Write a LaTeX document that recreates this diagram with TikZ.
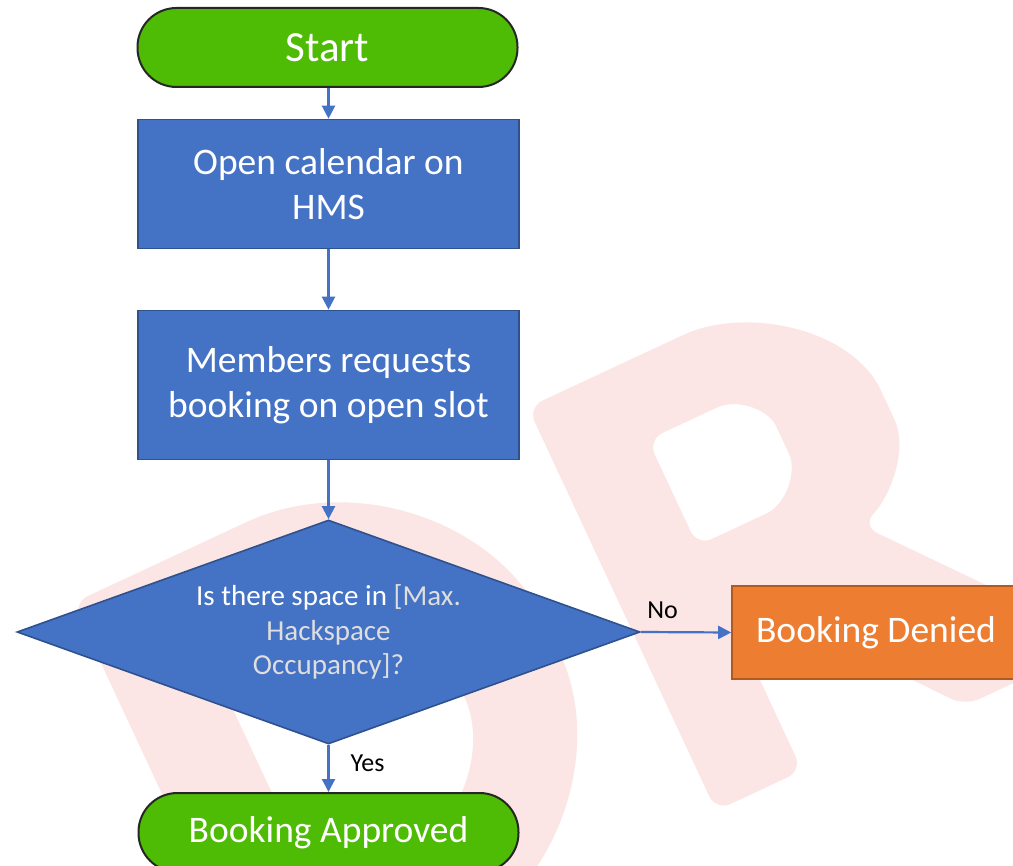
\documentclass[tikz,border=0pt]{standalone}
\usepackage{fontspec}
\setmainfont{Carlito}
\usetikzlibrary{shapes.geometric,arrows.meta}
\definecolor{termgreen}{RGB}{78,187,5}
\definecolor{procblue}{RGB}{68,114,196}
\definecolor{procedge}{RGB}{47,82,143}
\definecolor{denyorange}{RGB}{237,125,49}
\definecolor{denyedge}{RGB}{174,90,33}
\definecolor{wmpink}{RGB}{252,229,229}
\definecolor{paletext}{RGB}{222,222,222}
\begin{document}
\begin{tikzpicture}[x=1pt,y=-1pt,
  term/.style={draw=black!85, line width=2pt, fill=termgreen, rounded corners=39pt,
    minimum width=380pt, minimum height=79pt, text=white, inner sep=0pt,
    font=\fontsize{37.5}{45}\selectfont},
  proc/.style={draw=procedge, line width=1.6pt, fill=procblue, minimum width=381pt,
    text=white, inner sep=0pt, align=center, font=\fontsize{37.5}{45}\selectfont},
  decision/.style={diamond, aspect=2.78, draw=procedge, line width=1.6pt, fill=procblue,
    minimum width=623pt, minimum height=224pt, inner sep=0pt, align=center,
    text=paletext, font=\fontsize{29}{34.5}\selectfont},
  deny/.style={draw=denyedge, line width=1.6pt, fill=denyorange, minimum width=288pt,
    minimum height=93pt, text=white, inner sep=0pt, font=\fontsize{37.5}{45}\selectfont},
  conn/.style={draw=procblue, line width=2.2pt, -{Triangle[length=13pt,width=13pt]}},
  lbl/.style={text=black, font=\fontsize{26}{30}\selectfont, inner sep=0pt},
  wmark/.style={fill=wmpink, draw=none, even odd rule, rounded corners=16pt}
]
\useasboundingbox (0,0) rectangle (1013,866);
\clip (0,0) rectangle (1013,866);
\fill[white] (0,0) rectangle (1013,866);

% watermark "DR"
\begin{scope}[shift={(73,603)}, rotate=25]
  \path[wmark] (0,0) -- (175,0) .. controls (310,0) and (420,105) .. (420,235)
    .. controls (420,365) and (310,470) .. (175,470) -- (0,470) -- cycle
    (100,100) -- (175,100) .. controls (252,100) and (315,160) .. (315,235)
    .. controls (315,310) and (252,370) .. (175,370) -- (100,370) -- cycle;
  \path[wmark] (495,15) -- (650,15) .. controls (735,15) and (822,80) .. (822,165)
    .. controls (822,210) and (792,245) .. (748,264) -- (918,470) -- (765,470)
    -- (622,292) -- (590,292) -- (590,460) -- (495,460) -- cycle
    (590,95) -- (650,95) .. controls (690,95) and (712,120) .. (712,152)
    .. controls (712,185) and (690,212) .. (650,212) -- (590,212) -- cycle;
\end{scope}

\node[term, font=\fontsize{43}{50}\selectfont] (start) at (327.5,47.5) {Start};
\node[proc, minimum height=129pt] (open) at (328.5,184) {Open calendar on\\HMS};
\node[proc, minimum height=149pt] (req) at (328.5,385) {Members requests\\booking on open slot};
\node[decision] (q) at (328.5,632) {\textcolor{white}{Is there space in }[Max.\\Hackspace\\Occupancy]?};
\node[deny] (deny) at (876,632.5) {Booking Denied};
\node[term] (ok) at (328.5,832.5) {Booking Approved};

\draw[conn] (start.south -| open.north) -- (open.north);
\draw[conn] (open) -- (req);
\draw[conn] (req) -- (q);
\draw[conn] (q.east) -- (deny.west) node[lbl, pos=0.24, above=12pt] {No};
\draw[conn] (q.south) -- (ok.north) node[lbl, pos=0.4, right=21pt] {Yes};
\end{tikzpicture}
\end{document}
